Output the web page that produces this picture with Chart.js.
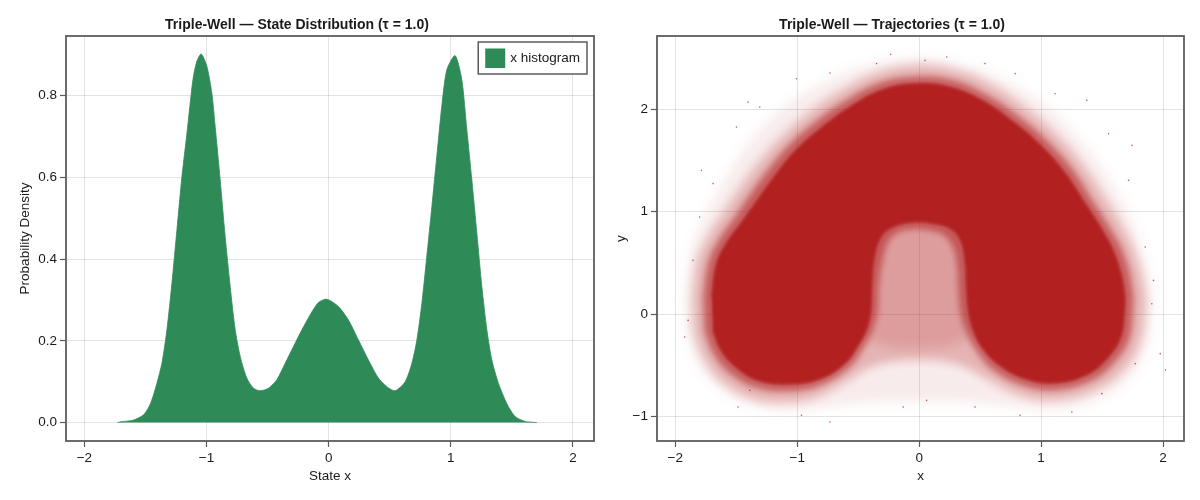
<!DOCTYPE html>
<html>
<head>
<meta charset="utf-8">
<script src="https://cdn.jsdelivr.net/npm/chart.js@4.4.1/dist/chart.umd.min.js"></script>
<style>
html,body{margin:0;padding:0;background:#fff;}
#wrap{display:flex;width:1200px;height:500px;}
.cell{position:relative;width:600px;height:500px;}
</style>
</head>
<body>
<div id="wrap">
  <div class="cell"><canvas id="c1"></canvas></div>
  <div class="cell"><canvas id="c2"></canvas></div>
</div>
<script>
// ---------- Left panel: histogram of x (density) ----------
const histX = [-1.728,-1.70,-1.60,-1.515,-1.458,-1.406,-1.365,-1.324,-1.283,-1.242,-1.201,-1.160,-1.111,-1.079,-1.043,-0.997,-0.956,-0.929,-0.888,-0.847,-0.806,-0.765,-0.724,-0.670,-0.615,-0.561,-0.493,-0.424,-0.356,-0.288,-0.219,-0.151,-0.083,-0.015,0.080,0.162,0.244,0.326,0.407,0.476,0.544,0.626,0.681,0.722,0.763,0.803,0.845,0.885,0.926,0.967,1.035,1.090,1.131,1.172,1.213,1.254,1.295,1.336,1.390,1.458,1.526,1.608,1.704];
const histY = [0.000,0.002,0.006,0.019,0.047,0.096,0.145,0.227,0.341,0.472,0.602,0.708,0.839,0.884,0.902,0.872,0.806,0.725,0.594,0.455,0.333,0.227,0.162,0.109,0.084,0.078,0.084,0.105,0.145,0.186,0.227,0.264,0.294,0.302,0.284,0.251,0.202,0.153,0.109,0.088,0.078,0.100,0.145,0.202,0.292,0.406,0.529,0.651,0.774,0.863,0.898,0.839,0.717,0.594,0.464,0.333,0.227,0.153,0.096,0.047,0.015,0.003,0.000];
const histLabel = 'x histogram';

// ---------- Right panel: trajectory cloud (x, y) ----------
// solid core of the horseshoe (outline)
const coreX = [-1.70,-1.66,-1.58,-1.44,-1.31,-1.17,-1.01,-0.79,-0.57,-0.30,-0.02,0.24,0.51,0.79,1.01,1.20,1.36,1.50,1.61,1.68,1.68,1.65,1.55,1.39,1.12,0.87,0.65,0.52,0.45,0.41,0.39,0.38,0.34,0.25,0.10,-0.05,-0.20,-0.31,-0.37,-0.39,-0.40,-0.44,-0.52,-0.60,-0.79,-1.03,-1.31,-1.50,-1.62,-1.69];
const coreY = [0.17,0.49,0.69,0.92,1.14,1.37,1.60,1.83,2.02,2.19,2.25,2.22,2.09,1.86,1.63,1.37,1.08,0.82,0.56,0.23,0.00,-0.23,-0.42,-0.58,-0.67,-0.63,-0.49,-0.33,-0.17,0.00,0.25,0.50,0.72,0.84,0.89,0.90,0.86,0.76,0.55,0.28,0.02,-0.17,-0.34,-0.47,-0.62,-0.68,-0.65,-0.52,-0.36,-0.16];
// densely speckled band hugging the core
const haloX = [-1.77,-1.73,-1.65,-1.51,-1.38,-1.24,-1.07,-0.84,-0.61,-0.32,-0.02,0.26,0.54,0.83,1.06,1.26,1.42,1.56,1.68,1.75,1.75,1.72,1.61,1.43,1.13,0.86,0.61,0.47,0.39,0.34,0.32,0.31,0.27,0.19,0.07,-0.05,-0.17,-0.25,-0.30,-0.33,-0.34,-0.38,-0.47,-0.58,-0.80,-1.04,-1.33,-1.55,-1.68,-1.76];
const haloY = [0.17,0.50,0.71,0.95,1.18,1.41,1.65,1.89,2.08,2.26,2.32,2.29,2.15,1.92,1.68,1.41,1.11,0.85,0.58,0.23,0.00,-0.25,-0.46,-0.64,-0.74,-0.70,-0.55,-0.36,-0.18,0.00,0.25,0.48,0.67,0.78,0.82,0.83,0.80,0.71,0.52,0.28,0.03,-0.15,-0.36,-0.53,-0.69,-0.75,-0.72,-0.58,-0.40,-0.17];
// lighter speckled band (covers the inner hole)
const shellX = [-1.86,-1.82,-1.73,-1.60,-1.46,-1.31,-1.13,-0.89,-0.64,-0.34,-0.02,0.28,0.58,0.88,1.13,1.34,1.51,1.65,1.77,1.85,1.85,1.81,1.69,1.47,1.14,0.84,0.58,0.38,0.18,0.00,-0.18,-0.40,-0.60,-0.82,-1.05,-1.36,-1.61,-1.76,-1.85];
const shellY = [0.17,0.52,0.76,1.00,1.25,1.49,1.73,1.98,2.18,2.36,2.43,2.39,2.25,2.01,1.75,1.46,1.16,0.89,0.60,0.23,0.00,-0.28,-0.53,-0.73,-0.84,-0.80,-0.65,-0.52,-0.46,-0.45,-0.46,-0.52,-0.66,-0.80,-0.86,-0.83,-0.67,-0.45,-0.18];
// speckle inside the hole between the two wells
const holeX = [0.46,0.40,0.38,0.37,0.33,0.24,0.10,-0.05,-0.19,-0.30,-0.36,-0.38,-0.40,-0.46,-0.25,0.00,0.25];
const holeY = [-0.20,0.02,0.28,0.50,0.72,0.84,0.89,0.90,0.86,0.76,0.55,0.28,0.02,-0.20,-0.32,-0.34,-0.32];
// sparse outer fringe
const fringeX = [-1.92,-1.88,-1.80,-1.67,-1.52,-1.34,-1.10,-0.80,-0.45,-0.05,0.35,0.72,1.05,1.30,1.52,1.70,1.82,1.90,1.90,1.84,1.70,1.45,1.10,0.75,0.40,0.00,-0.40,-0.75,-1.08,-1.42,-1.68,-1.84,-1.91];
const fringeY = [0.15,0.55,0.85,1.15,1.45,1.75,2.02,2.25,2.42,2.50,2.44,2.27,2.02,1.72,1.38,1.02,0.65,0.25,-0.10,-0.40,-0.65,-0.84,-0.93,-0.90,-0.86,-0.85,-0.86,-0.91,-0.94,-0.87,-0.68,-0.42,-0.13];
// isolated outlying samples
const strayX = [-0.234,-1.403,-1.006,-0.732,-0.349,-1.690,-1.800,-1.855,-1.923,-1.895,-1.485,-0.965,-0.732,-1.389,-0.131,-1.786,-1.498,-1.307,1.375,1.553,1.745,1.718,1.922,1.908,1.977,1.252,0.828,0.458,0.061,0.226,0.048,0.540,0.787,1.115,1.854,1.772,1.498,2.02];
const strayY = [2.539,2.072,2.300,2.356,2.448,1.275,0.948,0.525,-0.225,-0.062,-0.909,-0.990,-1.056,-0.746,-0.909,1.405,1.828,2.024,2.089,1.763,1.649,1.307,0.329,0.101,-0.387,-0.958,-0.990,-0.909,-0.844,2.512,2.480,2.448,2.350,2.154,0.655,-0.485,-0.778,-0.548];

// ---------- Axes ----------
const xTicks = [-2,-1,0,1,2];
const xTickLabels = ['\u22122','\u22121','0','1','2'];
const histYTicks = [0,0.2,0.4,0.6,0.8];
const histYTickLabels = ['0.0','0.2','0.4','0.6','0.8'];
const trajYTicks = [-1,0,1,2];
const trajYTickLabels = ['\u22121','0','1','2'];
const xLimits = [-2.15, 2.172];
const histYLimits = [-0.045, 0.946];
const trajYLimits = [-1.241, 2.718];

const titleLeft = 'Triple-Well \u2014 State Distribution (\u03c4 = 1.0)';
const titleRight = 'Triple-Well \u2014 Trajectories (\u03c4 = 1.0)';

const GREEN = 'rgb(46,139,87)';
const RED = 'rgb(178,34,34)';
const FONT = "'Liberation Sans', Arial, Helvetica, sans-serif";
const TXT = '#1a1a1a';
const GRID = 'rgba(0,0,0,0.11)';
const SPINE = '#5c5c5c';

const pts = (xs, ys) => xs.map((x, i) => ({x: x, y: ys[i]}));

const framePlugin = {
  id: 'frame',
  afterDraw(chart) {
    const a = chart.chartArea, ctx = chart.ctx;
    ctx.save();
    ctx.strokeStyle = SPINE;
    ctx.lineWidth = 1.8;
    ctx.strokeRect(a.left, a.top, a.right - a.left, a.bottom - a.top);
    ctx.restore();
  }
};

// soft edges for the speckled density bands. Chart.js draws datasets from the
// last index to the first and the filler paints each fill in its
// beforeDatasetDraw hook, so the blur for the next dataset is set in advance.
function softFor(chart, k) {
  const ds = chart.data.datasets[k];
  chart.ctx.filter = (ds && ds.soften) ? 'blur(' + ds.soften + 'px)' : 'none';
}
const softPlugin = {
  id: 'soft',
  beforeDatasetsDraw(chart) { softFor(chart, chart.data.datasets.length - 1); },
  afterDatasetDraw(chart, args) { softFor(chart, args.index - 1); },
  afterDatasetsDraw(chart) { chart.ctx.filter = 'none'; }
};

const boxLegendPlugin = {
  id: 'boxLegend',
  afterDraw(chart, args, opts) {
    if (!opts || !opts.display) return;
    const ds = chart.data.datasets[0];
    const a = chart.chartArea, ctx = chart.ctx;
    ctx.save();
    ctx.font = '13.5px ' + FONT;
    const tw = ctx.measureText(ds.label).width;
    const w = 7 + 20 + 5 + tw + 7, h = 32;
    const x0 = a.right - 7 - w, y0 = a.top + 6;
    ctx.fillStyle = '#fff';
    ctx.fillRect(x0, y0, w, h);
    ctx.strokeStyle = SPINE;
    ctx.lineWidth = 1.5;
    ctx.strokeRect(x0, y0, w, h);
    ctx.fillStyle = ds.backgroundColor;
    ctx.fillRect(x0 + 7, y0 + 6.5, 20, 19.5);
    ctx.fillStyle = TXT;
    ctx.textBaseline = 'middle';
    ctx.fillText(ds.label, x0 + 7 + 20 + 5, y0 + h / 2 + 0.5);
    ctx.restore();
  }
};

function axis(limits, ticks, labels, titleText, isX, fitSize, titlePad) {
  return {
    type: 'linear',
    min: limits[0],
    max: limits[1],
    afterBuildTicks: s => { s.ticks = ticks.map(v => ({value: v})); },
    afterFit: s => { if (isX) s.height = fitSize; else s.width = fitSize; },
    ticks: {
      color: TXT,
      font: {family: FONT, size: 13.5},
      padding: 3,
      callback: (v) => { const i = ticks.indexOf(v); return i >= 0 ? labels[i] : ''; },
      maxRotation: 0,
      autoSkip: false
    },
    grid: {
      color: GRID,
      lineWidth: 1,
      drawTicks: true,
      tickLength: 6,
      tickColor: SPINE,
      tickWidth: 1.2
    },
    border: {display: false},
    title: {
      display: true,
      text: titleText,
      color: TXT,
      font: {family: FONT, size: 13.5},
      padding: titlePad
    }
  };
}

function titleOpts(text) {
  return {
    display: true,
    text: text,
    color: TXT,
    font: {family: FONT, size: 14, weight: 'bold'},
    padding: {top: 17, bottom: 2.2}
  };
}

new Chart(document.getElementById('c1'), {
  type: 'line',
  data: {
    datasets: [{
      label: histLabel,
      data: pts(histX, histY),
      backgroundColor: GREEN,
      borderColor: GREEN,
      borderWidth: 0.8,
      pointRadius: 0,
      fill: 'origin',
      tension: 0.25
    }]
  },
  options: {
    responsive: true,
    maintainAspectRatio: false,
    animation: false,
    layout: {padding: {left: 0, right: 6, top: 0, bottom: 0}},
    scales: {
      x: axis(xLimits, xTicks, xTickLabels, 'State x', true, 59, {top: 0, bottom: 16}),
      y: axis(histYLimits, histYTicks, histYTickLabels, 'Probability Density', false, 66, {top: 17, bottom: 0})
    },
    plugins: {
      legend: {display: false},
      tooltip: {enabled: false},
      title: titleOpts(titleLeft),
      boxLegend: {display: true}
    }
  },
  plugins: [framePlugin, boxLegendPlugin]
});

const poly = (label, xs, ys, color, soften) => ({
  label: label, data: pts(xs, ys), backgroundColor: color, borderColor: color,
  borderWidth: 0, pointRadius: 0, fill: 'shape', tension: 0.4, soften: soften
});

new Chart(document.getElementById('c2'), {
  type: 'line',
  data: {
    datasets: [
      poly('fringe', fringeX, fringeY, 'rgba(178,34,34,0.09)', 6),
      poly('shell', shellX, shellY, 'rgba(178,34,34,0.28)', 5),
      poly('hole', holeX, holeY, 'rgba(178,34,34,0.14)', 5),
      poly('halo', haloX, haloY, 'rgba(178,34,34,0.6)', 3),
      Object.assign(poly('core', coreX, coreY, RED, 0.8), {borderWidth: 1}),
      {label: 'stray', data: pts(strayX, strayY), showLine: false, pointRadius: 0.8, pointBorderWidth: 0, pointBackgroundColor: 'rgba(178,34,34,0.75)', fill: false}
    ]
  },
  options: {
    responsive: true,
    maintainAspectRatio: false,
    animation: false,
    layout: {padding: {left: 0, right: 16, top: 0, bottom: 0}},
    scales: {
      x: axis(xLimits, xTicks, xTickLabels, 'x', true, 59, {top: 0, bottom: 16}),
      y: axis(trajYLimits, trajYTicks, trajYTickLabels, 'y', false, 57, {top: 13, bottom: 0})
    },
    plugins: {
      legend: {display: false},
      tooltip: {enabled: false},
      title: titleOpts(titleRight)
    }
  },
  plugins: [framePlugin, softPlugin]
});
</script>
</body>
</html>
